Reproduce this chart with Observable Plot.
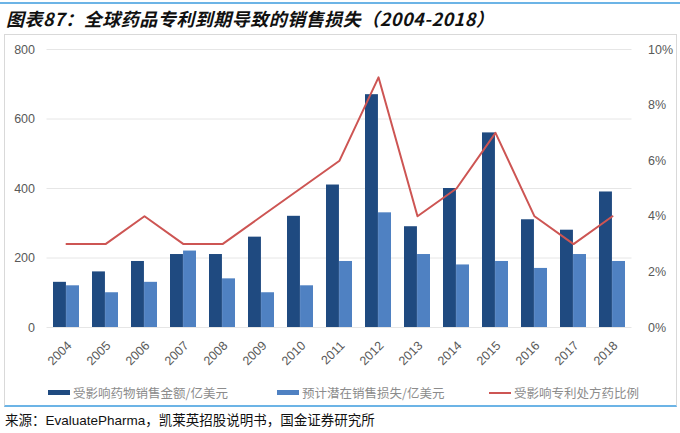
<!DOCTYPE html>
<html>
<head>
<meta charset="utf-8">
<script src="https://cdn.jsdelivr.net/npm/d3@7"></script>
<script src="https://cdn.jsdelivr.net/npm/@observablehq/plot@0.6"></script>
<style>
  html, body { margin: 0; padding: 0; background: #fff; }
  body { width: 680px; height: 433px; position: relative; overflow: hidden; font-family: "Liberation Sans", Arial, sans-serif; }
  #topline { position: absolute; left: 0; top: 2px; width: 680px; height: 2px; background: #6cb4e6; }
  #title { position: absolute; left: 6px; top: 5px; font-family: "Noto Sans CJK SC", sans-serif; font-weight: bold; font-style: italic; font-size: 18px; color: #111; white-space: nowrap; letter-spacing: 0.5px; }
  #box { position: absolute; left: 4px; top: 34px; width: 671px; height: 370px; border: 1px solid #d9d9d9; border-bottom: 2px solid #6cb4e6; box-sizing: content-box; }
  #chart { position: absolute; left: 0; top: 35px; }
  .leg { position: absolute; top: 383px; font-family: "Noto Sans CJK SC", sans-serif; font-size: 12.5px; color: #8c8c8c; white-space: nowrap; display: flex; align-items: center; }
  .sw { display: inline-block; width: 22px; height: 5px; margin-right: 3px; }
  .ln { display: inline-block; width: 22px; height: 2px; margin-right: 3px; }
  #source { position: absolute; left: 5px; top: 409px; font-size: 13.5px; color: #111; white-space: nowrap; font-family: "Liberation Sans", "Noto Sans CJK SC", sans-serif; }
  #source .cjk { font-family: "Noto Sans CJK SC", sans-serif; }
</style>
</head>
<body>
<div id="topline"></div>
<div id="title">图表87：全球药品专利到期导致的销售损失（2004-2018）</div>
<div id="box"></div>
<div id="chart"></div>
<div id="legend"></div>
<div id="source"><span class="cjk">来源：</span>EvaluatePharma<span class="cjk">，凯莱英招股说明书，国金证券研究所</span></div>
<script>
const years = ["2004","2005","2006","2007","2008","2009","2010","2011","2012","2013","2014","2015","2016","2017","2018"];
const salesAffected = [130,160,190,210,210,260,320,410,670,290,400,560,310,280,390];
const expectedLoss = [120,100,130,220,140,100,120,190,330,210,180,190,170,210,190];
const ratioPct = [3,3,4,3,3,4,5,6,9,4,5,7,4,3,4];
const leftTicks = [0,200,400,600,800];
const rightTicksPct = [0,2,4,6,8,10];
const seriesNames = ["受影响药物销售金额/亿美元","预计潜在销售损失/亿美元","受影响专利处方药比例"];
const colors = ["#1f4a80","#4f81c2","#cd5553"];

const pctFactor = 800 / 10; // right axis 0–10% maps onto left 0–800

const data = years.map((y, i) => ({year: y, sales: salesAffected[i], loss: expectedLoss[i], ratio: ratioPct[i]}));

const paddingInner = 0.33;
const step = (631.5 - 46.5) / years.length;
const half = step * (1 - paddingInner) / 2;
const axisColor = "#595959";

const chart = Plot.plot({
  width: 680,
  height: 340,
  marginTop: 14,
  marginBottom: 48,
  marginLeft: 46.5,
  marginRight: 48.5,
  style: {fontFamily: "'Liberation Sans', Arial, sans-serif", fontSize: "12.5px", color: axisColor, background: "transparent"},
  x: {type: "band", domain: years, paddingInner: paddingInner, paddingOuter: paddingInner / 2, label: null},
  y: {domain: [0, 800], label: null},
  marks: [
    Plot.gridY(leftTicks, {stroke: "#e6e6e6", strokeOpacity: 1}),
    Plot.barY(data, {x: "year", y: "sales", fill: colors[0], insetLeft: 0, insetRight: half}),
    Plot.barY(data, {x: "year", y: "loss", fill: colors[1], insetLeft: half, insetRight: 0}),
    Plot.line(data, {x: "year", y: d => d.ratio * pctFactor, stroke: colors[2], strokeWidth: 2}),
    Plot.axisY(leftTicks, {anchor: "left", tickSize: 0, tickPadding: 12, label: null, fill: axisColor}),
    Plot.axisY(rightTicksPct.map(v => v * pctFactor), {anchor: "right", tickSize: 0, tickPadding: 16, label: null, tickFormat: d => (d / pctFactor) + "%", textAnchor: "start", fill: axisColor}),
    Plot.axisX({tickRotate: -45, tickSize: 0, tickPadding: 12, label: null, dx: 3, dy: 4, fill: axisColor})
  ]
});
document.getElementById("chart").appendChild(chart);

const legend = document.getElementById("legend");
const legendX = [48, 277, 489];
seriesNames.forEach((name, i) => {
  const item = document.createElement("div");
  item.className = "leg";
  item.style.left = legendX[i] + "px";
  const sw = document.createElement("span");
  sw.className = i < 2 ? "sw" : "ln";
  sw.style.background = colors[i];
  item.appendChild(sw);
  item.appendChild(document.createTextNode(name));
  legend.appendChild(item);
});
</script>
</body>
</html>
